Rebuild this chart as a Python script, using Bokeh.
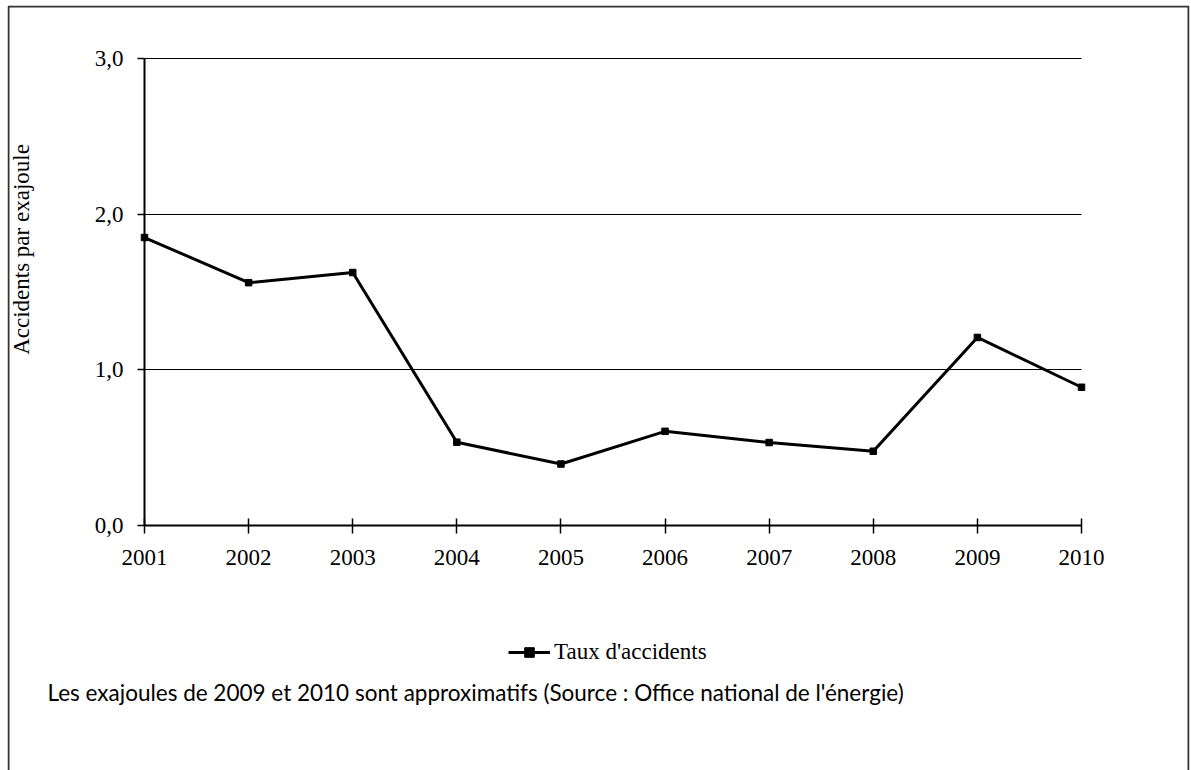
import math
from bokeh.plotting import figure
from bokeh.models import (Range1d, FixedTicker, Legend, LegendItem, Label, BoxAnnotation, Grid)
from bokeh.embed import file_html
from bokeh.resources import INLINE

years = [2001, 2002, 2003, 2004, 2005, 2006, 2007, 2008, 2009, 2010]
rates = [1.85, 1.56, 1.625, 0.535, 0.395, 0.605, 0.533, 0.477, 1.208, 0.888]
y_ticks = [0, 1, 2, 3]
y_tick_labels = ["0,0", "1,0", "2,0", "3,0"]
x_tick_labels = [str(y) for y in years]
series_name = "Taux d'accidents"
y_title = "Accidents par exajoule"
footnote = "Les exajoules de 2009 et 2010  sont approximatifs (Source : Office national de l'énergie)"

SERIF = "Liberation Serif"

# layout in pixels (chart-area border and plot area inside it)
W, H = 1191, 770
BL, BR, BT = 7, 1189, 5              # outer chart border
PL, PR, PT, PB = 144, 1081, 58, 525  # plot area (first/last year, top/bottom value)

xpx = (PR - PL) / (years[-1] - years[0])
ypx = (PB - PT) / (y_ticks[-1] - y_ticks[0])
x_start = years[0] - (PL - BL) / xpx
x_end = years[-1] + (BR - PR) / xpx
y_start = y_ticks[0] - (H - PB) / ypx
y_end = y_ticks[-1] + (PT - BT) / ypx

p = figure(width=W, height=H, output_backend="svg", toolbar_location=None,
           x_range=Range1d(x_start, x_end), y_range=Range1d(y_start, y_end),
           min_border_left=BL, min_border_right=W - BR, min_border_top=BT, min_border_bottom=0)
p.outline_line_color = None
p.background_fill_color = "white"
p.border_fill_color = "white"

FW, FH = BR - BL, H - BT  # frame size

# axes crossing at (2001, 0)
p.xaxis.fixed_location = y_ticks[0]
p.xaxis.bounds = (years[0], years[-1])
p.yaxis.fixed_location = years[0]
p.yaxis.bounds = (y_ticks[0], y_ticks[-1])
p.xaxis.ticker = FixedTicker(ticks=years)
p.xaxis.major_label_overrides = {y: l for y, l in zip(years, x_tick_labels)}
p.yaxis.ticker = FixedTicker(ticks=y_ticks)
p.yaxis.major_label_overrides = {t: l for t, l in zip(y_ticks, y_tick_labels)}
for ax in (p.xaxis, p.yaxis):
    ax.axis_line_color = "black"
    ax.axis_line_width = 2
    ax.major_tick_line_color = "black"
    ax.major_tick_line_width = 1.5
    ax.minor_tick_line_color = None
    ax.major_label_text_font = SERIF
    ax.major_label_text_font_size = "23px"
    ax.major_label_text_color = "black"
p.xaxis.major_tick_in = 7
p.xaxis.major_tick_out = 8
p.xaxis.major_label_standoff = 16
p.yaxis.major_tick_in = 0
p.yaxis.major_tick_out = 7
p.yaxis.major_label_standoff = 14

p.xgrid.grid_line_color = None
if "cross_bounds" in Grid.properties():
    p.ygrid.ticker = FixedTicker(ticks=y_ticks[1:])
    p.ygrid.cross_bounds = (years[0], years[-1])
    p.ygrid.grid_line_color = "black"
    p.ygrid.grid_line_width = 1.2
else:
    p.ygrid.grid_line_color = None
    p.segment(x0=[years[0]] * 3, x1=[years[-1]] * 3, y0=y_ticks[1:], y1=y_ticks[1:],
              line_color="black", line_width=1.2)

# data
r_line = p.line(years, rates, line_color="black", line_width=3)
r_pts = p.scatter(years, rates, marker="square", size=6.5, fill_color="black", line_color="black")

legend = Legend(items=[LegendItem(label=series_name, renderers=[r_line, r_pts])],
                location=(508 - BL, H - 665), orientation="horizontal",
                padding=0, margin=0, spacing=0,
                glyph_width=42, glyph_height=24, label_height=24, label_standoff=4,
                border_line_color=None, background_fill_alpha=0,
                label_text_font=SERIF, label_text_font_size="23px", label_text_color="black")
p.add_layout(legend, "center")

# y title
p.add_layout(Label(x=21 - BL, y=H - 249, x_units="screen", y_units="screen",
                   text=y_title, angle=math.pi / 2, text_align="center", text_baseline="middle",
                   text_font=SERIF, text_font_size="23px", text_color="black"))

# footnote
p.add_layout(Label(x=47 - BL, y=H - 692, x_units="screen", y_units="screen",
                   text=footnote, text_align="left", text_baseline="middle",
                   text_font="Lato", text_font_size="22.5px", text_color="black"))

# outer chart border (open at the bottom edge of the window)
p.add_layout(BoxAnnotation(left=1, right=FW - 1, top=FH - 1, bottom=-50,
                           left_units="screen", right_units="screen",
                           top_units="screen", bottom_units="screen",
                           fill_alpha=0, line_color="#333333", line_alpha=1.0, line_width=2))

open("out.html", "w").write(file_html(p, INLINE))
